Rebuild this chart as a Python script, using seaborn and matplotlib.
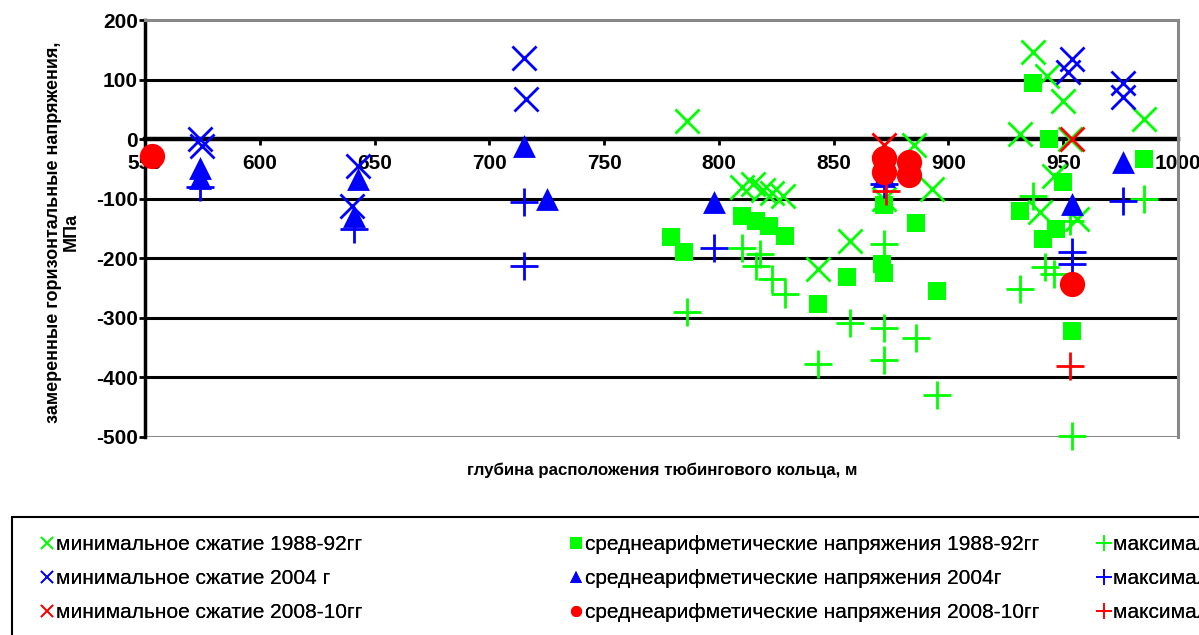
import numpy as np
import pandas as pd
import matplotlib
matplotlib.use("Agg")
import matplotlib.pyplot as plt
import seaborn as sns
from matplotlib.lines import Line2D
from matplotlib.patches import Rectangle

min_88_x = [786, 810, 815, 819, 823, 828, 843, 857, 872, 885, 893, 931, 937, 943, 950, 953, 946, 940, 956, 985]
min_88_y = [31, -80, -75, -85, -90, -95, -218, -171, -100, -10, -84, 8, 146, 106, 64, 0, -62, -123, -134, 34]

mean_88_x = [779, 785, 810, 816, 822, 829, 843, 856, 871, 872, 872, 886, 895, 931, 937, 944, 941, 947, 950, 954, 985]
mean_88_y = [-165, -190, -129, -137, -146, -162, -277, -232, -210, -225, -110, -140, -255, -120, 94, 0, -168, -151, -72, -322, -34]

max_88_x = [786, 810, 818, 816, 823, 829, 843, 857, 872, 872, 872, 886, 895, 931, 937, 942, 946, 953, 954, 985]
max_88_y = [-291, -182, -193, -213, -235, -260, -378, -308, -176, -317, -370, -333, -429, -252, -96, -215, -227, -138, -499, -101]

min_04_x = [574, 575, 643, 640, 715, 716, 954, 952, 976, 976]
min_04_y = [0, -12, -45, -112, 137, 67, 134, 112, 95, 70]

mean_04_x = [574, 574, 643, 641, 715, 725, 798, 872, 954, 976]
mean_04_y = [-48, -66, -67, -129, -11, -101, -106, -62, -109, -39]

max_04_x = [574, 641, 715, 715, 798, 872, 954, 954, 976]
max_04_y = [-80, -151, -106, -213, -182, -75, -190, -210, -104]

min_10_x = [872, 954]
min_10_y = [-10, 0]

mean_10_x = [553, 872, 872, 883, 883, 954]
mean_10_y = [-29, -32, -55, -38, -60, -244]

max_10_x = [873, 953]
max_10_y = [-87, -381]

labels_min = ["минимальное сжатие 1988-92гг", "минимальное сжатие 2004 г", "минимальное сжатие 2008-10гг"]
labels_mean = ["среднеарифметические напряжения 1988-92гг", "среднеарифметические напряжения 2004г",
               "среднеарифметические напряжения 2008-10гг"]
labels_max = ["максимальное сжатие 1988-92гг", "максимальное сжатие 2004 г", "максимальное сжатие 2008-10гг"]

x_ticks = [550, 600, 650, 700, 750, 800, 850, 900, 950, 1000]
y_ticks = [200, 100, 0, -100, -200, -300, -400, -500]

GREEN, BLUE, RED = "#00ff00", "#0000ff", "#ff0000"

sns.set_theme(style="white")
plt.rcParams["font.family"] = ["Liberation Sans", "DejaVu Sans"]
plt.rcParams["text.color"] = "black"
plt.rcParams["xtick.color"] = "black"
plt.rcParams["ytick.color"] = "black"

fig = plt.figure(figsize=(11.99, 6.35), dpi=100)
ax = fig.add_axes([145 / 1199, 1 - 437 / 635, (1178 - 145) / 1199, (437 - 20) / 635])

series = [
    (min_88_x, min_88_y, GREEN, "x", 300, 2.0),
    (mean_88_x, mean_88_y, GREEN, "s", 180, 0),
    (max_88_x, max_88_y, GREEN, "+", 380, 2.0),
    (min_04_x, min_04_y, BLUE, "x", 300, 2.0),
    (mean_04_x, mean_04_y, BLUE, "^", 270, 0),
    (max_04_x, max_04_y, BLUE, "+", 380, 2.0),
    (min_10_x, min_10_y, RED, "x", 300, 2.0),
    (mean_10_x, mean_10_y, RED, "o", 330, 0),
    (max_10_x, max_10_y, RED, "+", 380, 2.0),
]

for xs, ys, col, mk, size, lw in series:
    df = pd.DataFrame({"depth": xs, "stress": ys})
    sns.scatterplot(data=df, x="depth", y="stress", color=col, marker=mk, s=size,
                    linewidth=lw, edgecolor=col if lw == 0 else None, ax=ax, zorder=3, clip_on=False)

ax.set_xlim(550, 1000)
ax.set_ylim(-500, 200)
ax.set_xticks(x_ticks)
ax.set_yticks(y_ticks)
ax.set_xticklabels([str(v) for v in x_ticks])
ax.set_yticklabels([str(v) for v in y_ticks])

for v in y_ticks:
    if v not in (0, 200, -500):
        ax.axhline(v, color="black", lw=2.2, zorder=1)
ax.axhline(-500, color="#888888", lw=2.2, zorder=1)

ax.spines["bottom"].set_position(("data", 0))
ax.spines["bottom"].set_linewidth(3.2)
ax.spines["bottom"].set_color("black")
ax.spines["bottom"].set_zorder(2)
ax.spines["left"].set_linewidth(2.5)
ax.spines["left"].set_color("black")
ax.spines["top"].set_color("#888888")
ax.spines["top"].set_linewidth(2.2)
ax.spines["right"].set_color("#888888")
ax.spines["right"].set_linewidth(2.2)

ax.tick_params(axis="x", direction="out", length=4, width=2, color="black", pad=7,
               labelsize=15, bottom=True, labelcolor="black")
ax.tick_params(axis="y", direction="out", length=4, width=2, color="black", pad=1,
               labelsize=15, left=True, labelcolor="black")
for t in ax.get_xticklabels() + ax.get_yticklabels():
    t.set_fontweight("bold")
    t.set_family(["Liberation Sans Narrow", "Liberation Sans", "DejaVu Sans"])

ax.set_xlabel("")
ax.set_ylabel("")
fig.text(0.5525, 1 - 470 / 635, "глубина расположения тюбингового кольца, м", ha="center", va="center",
         fontsize=12.2, fontweight="bold", color="black")
fig.text(62 / 1199, 1 - 232 / 635, "замеренные горизонтальные напряжения,\nМПа", ha="center", va="center",
         rotation=90, fontsize=13, fontweight="bold", linespacing=1.05, color="black")

# legend: frame runs off the right and bottom edge like in the source
fig.add_artist(Rectangle((12 / 1199, -0.05), 1.2, (0.05 + 1 - 517 / 635), transform=fig.transFigure,
                         facecolor="white", edgecolor="black", lw=1.5, zorder=0))

cols = [GREEN, BLUE, RED]
groups = [
    (labels_min, "x", 40, 9),
    (labels_mean, None, 569, 9),
    (labels_max, "+", 1097, 11),
]
mean_markers = ["s", "^", "o"]
for labels, mk, xpos, ms in groups:
    handles = []
    for i, lab in enumerate(labels):
        m = mk if mk is not None else mean_markers[i]
        handles.append(Line2D([], [], ls="", marker=m, color=cols[i], markersize=ms if mk else 8,
                              markeredgewidth=1.2 if mk else 0))
    lg = fig.legend(handles, labels, loc="upper left", bbox_to_anchor=(xpos / 1199 - 0.008, 1 - 525 / 635),
                    frameon=False, fontsize=15, handlelength=0.6, handletextpad=0.15,
                    labelspacing=0.72, borderpad=0, labelcolor="black")
    fig.add_artist(lg)

fig.savefig("out.png", dpi=100)
